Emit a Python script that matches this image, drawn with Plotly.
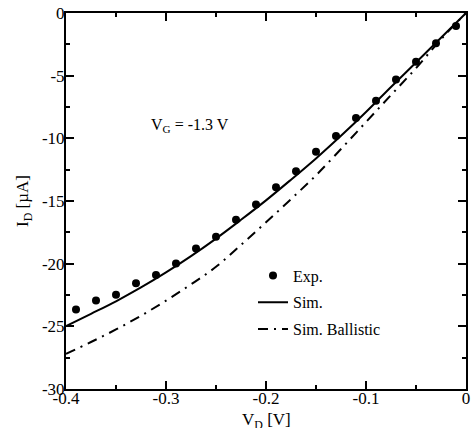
import plotly.graph_objects as go

# Experimental data
exp_vd = [-0.39, -0.37, -0.35, -0.33, -0.31, -0.29, -0.27, -0.25, -0.23, -0.21,
          -0.19, -0.17, -0.15, -0.13, -0.11, -0.09, -0.07, -0.05, -0.03, -0.01]
exp_id = [-23.65, -22.93, -22.48, -21.57, -20.9, -19.98, -18.78, -17.85, -16.5, -15.27,
          -13.9, -12.63, -11.07, -9.82, -8.38, -7.0, -5.3, -3.88, -2.42, -1.04]

# Simulated curves
sim_vd = [-0.4, -0.375, -0.35, -0.325, -0.3, -0.275, -0.25, -0.225, -0.2,
          -0.175, -0.15, -0.125, -0.1, -0.075, -0.05, -0.025, 0.0]
sim_id = [-24.98, -24.0, -23.0, -21.9, -20.7, -19.4, -18.0, -16.5, -14.95,
          -13.3, -11.6, -9.8, -7.9, -5.9, -3.95, -1.98, 0.0]
bal_id = [-27.2, -26.25, -25.25, -24.15, -22.95, -21.65, -20.25, -18.5, -16.7,
          -14.85, -12.95, -10.85, -8.7, -6.55, -4.4, -2.1, 0.0]

# Tick labels
x_tickvals = [-0.4, -0.3, -0.2, -0.1, 0.0]
x_ticktext = ["-0.4", "-0.3", "-0.2", "-0.1", "0"]
y_tickvals = [-30, -25, -20, -15, -10, -5, 0]
y_ticktext = ["-30", "-25", "-20", "-15", "-10", "-5", "0"]

FONT = "Liberation Serif"

fig = go.Figure()
fig.add_trace(go.Scatter(x=exp_vd, y=exp_id, mode="markers", name="Exp.",
                         legendgroup="a",
                         marker=dict(color="black", size=8, symbol="circle")))
fig.add_trace(go.Scatter(x=sim_vd, y=sim_id, mode="lines", name="Sim.",
                         legendgroup="b", line_shape="spline",
                         line=dict(color="black", width=2)))
fig.add_trace(go.Scatter(x=sim_vd, y=bal_id, mode="lines", name="Sim. Ballistic",
                         legendgroup="c", line_shape="spline",
                         line=dict(color="black", width=2, dash="10px,6px,2px,6px")))

axis_common = dict(
    showline=True, linecolor="black", linewidth=2, mirror="allticks",
    ticks="inside", ticklen=8, tickwidth=1.5, tickcolor="black",
    showgrid=False, zeroline=False, automargin=False,
    tickfont=dict(family=FONT, size=17, color="black"),
)

fig.update_xaxes(range=[-0.4, 0], tickmode="array", tickvals=x_tickvals, ticktext=x_ticktext,
                 minor=dict(ticks="inside", ticklen=4, dtick=0.05, tick0=0,
                            tickcolor="black", tickwidth=1.5),
                 ticklabelstandoff=-7,
                 **axis_common)
fig.update_yaxes(range=[-30, 0], tickmode="array", tickvals=y_tickvals, ticktext=y_ticktext,
                 minor=dict(ticks="inside", ticklen=4, dtick=2.5, tick0=0,
                            tickcolor="black", tickwidth=1.5),
                 ticklabelstandoff=-4,
                 **axis_common)

# Axis titles
fig.add_annotation(x=0.5, y=-0.05, xref="paper", yref="paper",
                   xanchor="center", yanchor="top",
                   text="V<sub>D</sub> [V]", showarrow=False,
                   font=dict(family=FONT, size=17, color="black"))
fig.add_annotation(x=-0.105, y=0.5, xref="paper", yref="paper",
                   xanchor="center", yanchor="middle", textangle=-90,
                   text="I<sub>D</sub> [µA]", showarrow=False,
                   font=dict(family=FONT, size=17, color="black"))

fig.add_annotation(x=-0.276, y=-9.0, xref="x", yref="y",
                   text="V<sub>G</sub> = -1.3 V", showarrow=False,
                   font=dict(family=FONT, size=16, color="black"))

fig.update_layout(
    width=474, height=428,
    margin=dict(l=66, r=8, t=13, b=39),
    plot_bgcolor="white", paper_bgcolor="white",
    showlegend=True,
    legend=dict(x=0.4675, y=0.347, xanchor="left", yanchor="top",
                bgcolor="rgba(0,0,0,0)", tracegroupgap=3,
                font=dict(family=FONT, size=16, color="black")),
)

fig.write_html("out.html")
